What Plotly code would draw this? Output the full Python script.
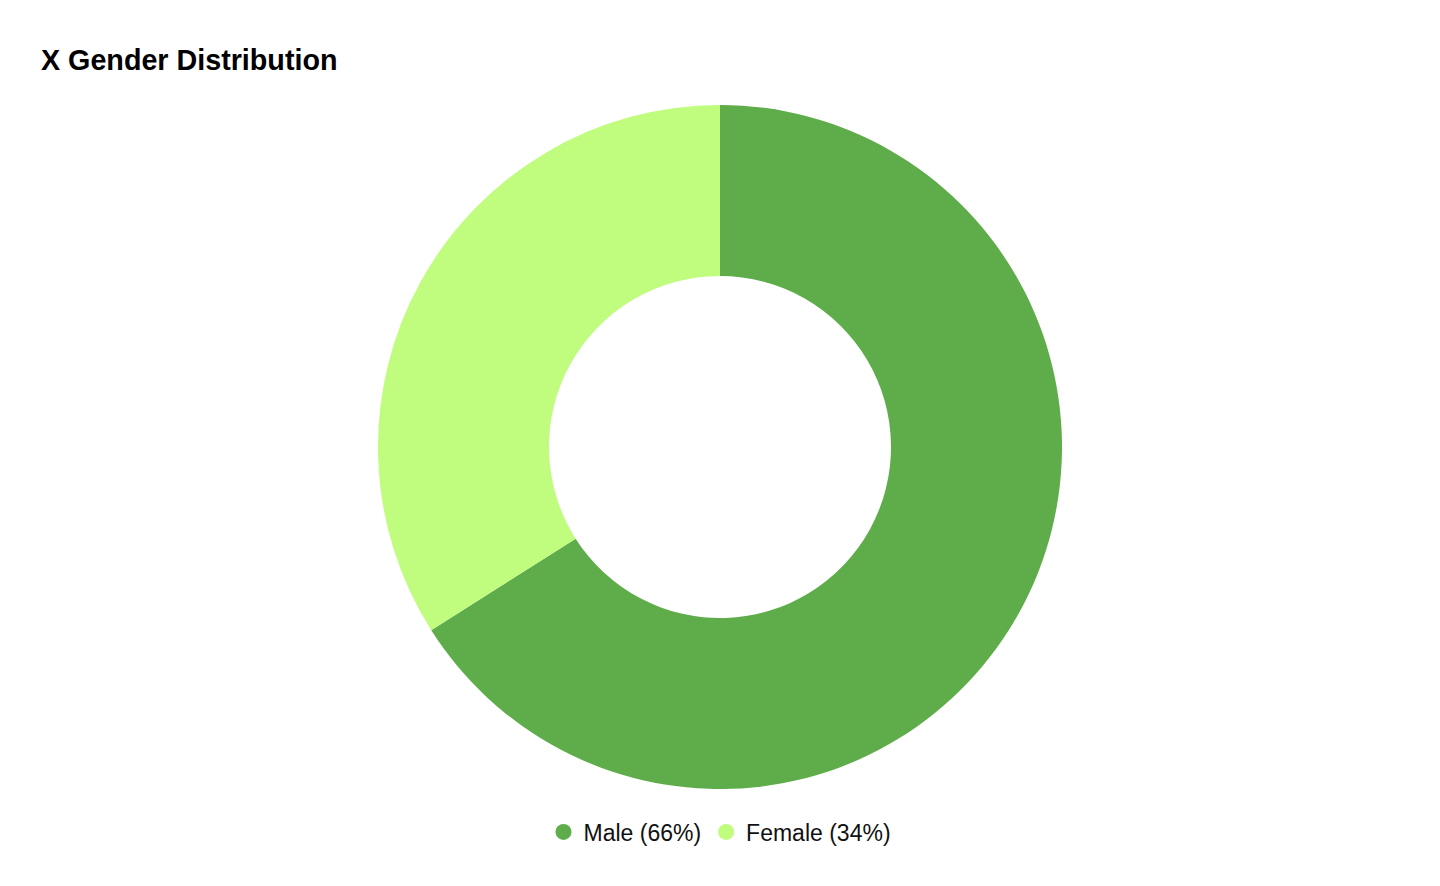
"""
Donut chart: X gender distribution
"""

import plotly.graph_objects as go

# Data
labels = ['Male', 'Female']
shares = [66, 34]
colors = ['#5fad4a', '#c0fd7e']

# the page puts the figure 8px in from the top-left corner
OFF = 8
W, H = 1440 - 2 * OFF, 886 - 2 * OFF
TOP = 105 - OFF
BOTTOM = H - (789 - OFF)
LEFT = 32
RIGHT = W - LEFT - 2 * ((720 - OFF) - LEFT)


def build_figure():
    fig = go.Figure()

    fig.add_trace(
        go.Pie(
            labels=labels,
            values=shares,
            hole=0.5,
            sort=False,
            direction='clockwise',
            rotation=0,
            textinfo='none',
            hoverinfo='label+percent',
            marker=dict(colors=colors, line=dict(width=0)),
            showlegend=False,
        )
    )

    # legend entries with round markers
    for lab, val, col in zip(labels, shares, colors):
        fig.add_trace(
            go.Scatter(
                x=[None], y=[None],
                mode='markers',
                name=f'{lab} ({val}%)',
                marker=dict(color=col, size=18, symbol='circle'),
                showlegend=True,
            )
        )

    plot_h = H - TOP - BOTTOM
    fig.update_layout(
        width=W,
        height=H,
        margin=dict(l=LEFT, r=RIGHT, t=TOP, b=BOTTOM, pad=0),
        paper_bgcolor='white',
        plot_bgcolor='white',
        font=dict(family='Liberation Sans, Arial, sans-serif', color='#111111'),
        title=dict(
            text='<b>X Gender Distribution</b>',
            xref='container', yref='container',
            x=(41 - OFF) / W, xanchor='left',
            y=1 - (60 - OFF) / H, yanchor='middle',
            font=dict(size=28.7, color='#000000'),
        ),
        xaxis=dict(visible=False),
        yaxis=dict(visible=False),
        showlegend=True,
        legend=dict(
            orientation='h',
            x=0.5, xanchor='center',
            y=(H - BOTTOM - (832 - OFF)) / plot_h, yanchor='middle',
            font=dict(size=23, color='#111111'),
            itemsizing='trace',
        ),
    )
    return fig


fig = build_figure()
fig.write_html("out.html")
